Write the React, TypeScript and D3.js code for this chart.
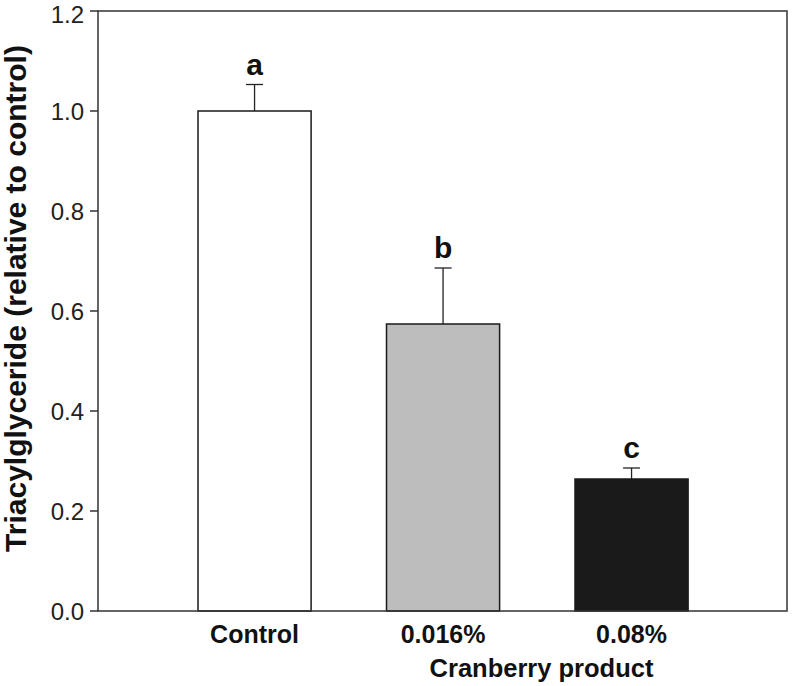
import React from "react";
import * as d3 from "d3";

const categories = ["Control", "0.016%", "0.08%"];
const means = [1.0, 0.574, 0.264];
const errors = [0.053, 0.112, 0.022];
const letters = ["a", "b", "c"];
const fills = ["#ffffff", "#bdbdbd", "#1a1a1a"];
const yTicks = [0, 0.2, 0.4, 0.6, 0.8, 1.0, 1.2];

const W = 792;
const H = 686;
const left = 98;
const right = 787;
const top = 11;
const bottom = 611;

export default function App() {
  const y = d3.scaleLinear().domain([0, 1.2]).range([bottom, top]);
  const x = d3
    .scaleBand<string>()
    .domain(categories)
    .range([103.75, 782.35])
    .paddingInner(0.4)
    .paddingOuter(0.5);
  const bw = x.bandwidth();
  const font = "'Liberation Sans', Arial, sans-serif";
  const axisColor = "#333";
  return (
    <svg
      width={W}
      height={H}
      style={{ position: "absolute", left: 0, top: 0, background: "#fff" }}
      fontFamily={font}
    >
      {categories.map((c, i) => {
        const x0 = x(c)!;
        const cx = x0 + bw / 2;
        const yt = y(means[i]);
        const ye = y(means[i] + errors[i]);
        return (
          <g key={c}>
            <line x1={cx} x2={cx} y1={yt} y2={ye} stroke="#222" strokeWidth={1.3} />
            <line x1={cx - 8.5} x2={cx + 8.5} y1={ye} y2={ye} stroke="#222" strokeWidth={1.3} />
            <rect
              x={x0}
              y={yt}
              width={bw}
              height={bottom - yt}
              fill={fills[i]}
              stroke="#1a1a1a"
              strokeWidth={1.5}
            />
            <text
              x={cx}
              y={ye - 10}
              textAnchor="middle"
              fontSize={30}
              fontWeight="bold"
              fill="#111"
            >
              {letters[i]}
            </text>
            <text
              x={cx}
              y={643}
              textAnchor="middle"
              fontSize={25}
              fontWeight="bold"
              fill="#111"
            >
              {c}
            </text>
          </g>
        );
      })}
      <rect
        x={left}
        y={top}
        width={right - left}
        height={bottom - top}
        fill="none"
        stroke={axisColor}
        strokeWidth={1.5}
      />
      {yTicks.map((t) => (
        <g key={t}>
          <line x1={left - 8} x2={left} y1={y(t)} y2={y(t)} stroke={axisColor} strokeWidth={1.5} />
          <text
            x={84}
            y={Math.max(y(t), 13.5)}
            dy="0.38em"
            textAnchor="end"
            fontSize={24}
            fill="#222"
          >
            {t.toFixed(1)}
          </text>
        </g>
      ))}
      <text
        transform={`translate(25.5, 298.5) rotate(-90)`}
        textAnchor="middle"
        fontSize={30}
        fontWeight="bold"
        fill="#111"
      >
        Triacylglyceride (relative to control)
      </text>
      <text
        x={541.5}
        y={677}
        textAnchor="middle"
        fontSize={25.5}
        fontWeight="bold"
        fill="#111"
      >
        Cranberry product
      </text>
    </svg>
  );
}
